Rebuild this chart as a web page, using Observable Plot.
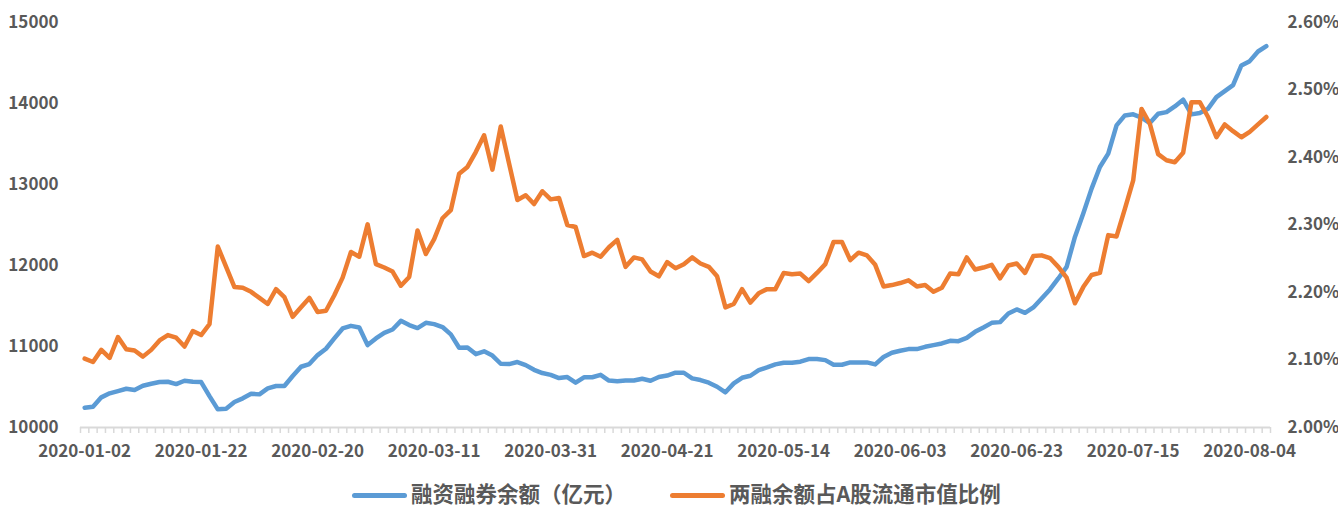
<!DOCTYPE html>
<html>
<head>
<meta charset="utf-8">
<script src="https://cdn.jsdelivr.net/npm/d3@7"></script>
<script src="https://cdn.jsdelivr.net/npm/@observablehq/plot@0.6"></script>
<style>
  html, body { margin: 0; padding: 0; background: #fff; }
  #wrap { width: 1338px; height: 509px; position: relative; overflow: hidden; }
  #chart { height: 470px; }
  #chart svg { display: block; }
  #legend { position: relative; width: 1338px; height: 39px; font-family: "Noto Sans CJK SC", "Noto Sans", sans-serif; font-weight: bold; font-size: 21.5px; color: #595959; }
  .item { position: absolute; top: 11px; height: 24px; display: flex; align-items: center; white-space: nowrap; }
  .sw { display: block; width: 55px; height: 5px; border-radius: 3px; margin-right: 4px; position: relative; top: 2px; }
  .tx { display: block; height: 24px; line-height: 24px; }
</style>
</head>
<body>
<div id="wrap">
  <div id="chart"></div>
  <div id="legend"></div>
</div>
<script>
// Trading dates (category axis)
const dates = [
"2020-01-02","2020-01-03","2020-01-06","2020-01-07","2020-01-08","2020-01-09","2020-01-10","2020-01-13","2020-01-14","2020-01-15",
"2020-01-16","2020-01-17","2020-01-20","2020-01-21","2020-01-22","2020-01-23","2020-02-03","2020-02-04","2020-02-05","2020-02-06",
"2020-02-10","2020-02-11","2020-02-12","2020-02-13","2020-02-14","2020-02-17","2020-02-18","2020-02-19","2020-02-20","2020-02-21",
"2020-02-24","2020-02-25","2020-02-26","2020-02-27","2020-02-28","2020-03-02","2020-03-03","2020-03-04","2020-03-05","2020-03-06",
"2020-03-09","2020-03-10","2020-03-11","2020-03-12","2020-03-13","2020-03-16","2020-03-17","2020-03-18","2020-03-19","2020-03-20",
"2020-03-23","2020-03-24","2020-03-25","2020-03-26","2020-03-27","2020-03-30","2020-03-31","2020-04-01","2020-04-02","2020-04-03",
"2020-04-07","2020-04-08","2020-04-09","2020-04-10","2020-04-13","2020-04-14","2020-04-15","2020-04-16","2020-04-17","2020-04-20",
"2020-04-21","2020-04-22","2020-04-23","2020-04-24","2020-04-27","2020-04-28","2020-04-29","2020-04-30","2020-05-06","2020-05-07",
"2020-05-08","2020-05-11","2020-05-12","2020-05-13","2020-05-14","2020-05-15","2020-05-18","2020-05-19","2020-05-20","2020-05-21",
"2020-05-22","2020-05-25","2020-05-26","2020-05-27","2020-05-28","2020-05-29","2020-06-01","2020-06-02","2020-06-03","2020-06-04",
"2020-06-05","2020-06-08","2020-06-09","2020-06-10","2020-06-11","2020-06-12","2020-06-15","2020-06-16","2020-06-17","2020-06-18",
"2020-06-19","2020-06-22","2020-06-23","2020-06-24","2020-06-29","2020-06-30","2020-07-01","2020-07-02","2020-07-03","2020-07-06",
"2020-07-07","2020-07-08","2020-07-09","2020-07-10","2020-07-13","2020-07-14","2020-07-15","2020-07-16","2020-07-17","2020-07-20",
"2020-07-21","2020-07-22","2020-07-23","2020-07-24","2020-07-27","2020-07-28","2020-07-29","2020-07-30","2020-07-31","2020-08-03",
"2020-08-04","2020-08-05","2020-08-06"
];

// 融资融券余额（亿元） — left axis
const marginBalance = [
10244,10257,10372,10422,10450,10478,10462,10515,10540,10561,
10565,10536,10577,10565,10561,10388,10224,10232,10315,10360,
10417,10409,10483,10512,10512,10635,10750,10783,10894,10972,
11100,11223,11255,11235,11017,11100,11169,11210,11317,11264,
11227,11292,11276,11240,11150,10985,10988,10906,10940,10888,
10787,10783,10808,10770,10712,10672,10650,10610,10623,10553,
10620,10620,10650,10580,10571,10580,10580,10602,10577,10623,
10641,10676,10676,10606,10586,10553,10503,10434,10545,10614,
10639,10709,10742,10779,10799,10799,10812,10845,10845,10832,
10775,10775,10804,10804,10804,10779,10870,10923,10947,10968,
10968,10996,11017,11038,11070,11066,11107,11181,11235,11292,
11301,11408,11458,11416,11482,11593,11704,11840,11983,12353,
12641,12949,13216,13381,13730,13853,13866,13825,13758,13874,
13894,13964,14047,13866,13882,13936,14079,14153,14227,14470,
14523,14642,14708
];

// 两融余额占A股流通市值比例 (%) — right axis
const ratioPct = [
2.102,2.097,2.115,2.103,2.134,2.116,2.114,2.105,2.115,2.129,
2.137,2.133,2.120,2.143,2.137,2.153,2.268,2.238,2.208,2.207,
2.201,2.192,2.183,2.205,2.193,2.164,2.178,2.192,2.171,2.173,
2.196,2.222,2.260,2.253,2.301,2.242,2.237,2.231,2.210,2.223,
2.292,2.257,2.279,2.310,2.322,2.376,2.386,2.408,2.433,2.382,
2.446,2.391,2.337,2.344,2.331,2.350,2.338,2.340,2.300,2.297,
2.254,2.259,2.253,2.267,2.278,2.238,2.252,2.249,2.231,2.224,
2.245,2.236,2.242,2.252,2.243,2.238,2.224,2.178,2.183,2.205,
2.185,2.199,2.205,2.205,2.229,2.227,2.228,2.217,2.229,2.242,
2.275,2.275,2.248,2.259,2.255,2.241,2.209,2.211,2.214,2.218,
2.209,2.211,2.201,2.207,2.228,2.227,2.252,2.234,2.237,2.241,
2.221,2.240,2.243,2.229,2.254,2.255,2.251,2.238,2.222,2.184,
2.208,2.226,2.229,2.285,2.283,2.324,2.366,2.472,2.450,2.405,
2.396,2.393,2.407,2.482,2.482,2.460,2.430,2.449,2.439,2.430,
2.438,2.449,2.460
];

const xTickLabels = ["2020-01-02","2020-01-22","2020-02-20","2020-03-11","2020-03-31","2020-04-21","2020-05-14","2020-06-03","2020-06-23","2020-07-15","2020-08-04"];
const leftTicks = [10000, 11000, 12000, 13000, 14000, 15000];
const rightTicks = [2.00, 2.10, 2.20, 2.30, 2.40, 2.50, 2.60];
const seriesNames = ["融资融券余额（亿元）", "两融余额占A股流通市值比例"];
const colors = ["#5B9BD5", "#ED7D31"];

// right-axis mapping onto left scale
const L0 = 10000, L1 = 15000, R0 = 2.0, R1 = 2.6;
const toLeft = p => L0 + (p - R0) / (R1 - R0) * (L1 - L0);
const fromLeft = v => R0 + (v - L0) / (L1 - L0) * (R1 - R0);

const rows = dates.map((d, i) => ({date: d, margin: marginBalance[i], ratio: ratioPct[i]}));

const W = 1338, H = 470, mL = 80, mR = 68, mT = 22, mB = 43;
const step = (W - mL - mR) / dates.length;
const textColor = "#595959";
const font = '"Noto Sans CJK SC", "Noto Sans", sans-serif';

const chart = Plot.plot({
  width: W,
  height: H,
  marginLeft: mL,
  marginRight: mR,
  marginTop: mT,
  marginBottom: mB,
  style: {fontFamily: font, fontSize: "17px", fontWeight: "bold", color: textColor, background: "#fff", overflow: "visible"},
  x: {type: "point", domain: dates, padding: 0.5, axis: null, label: null},
  y: {domain: [L0, L1], axis: null, label: null},
  marks: [
    Plot.ruleY([L0], {stroke: "#d9d9d9", strokeWidth: 2}),
    Plot.axisX({ticks: dates, tickSize: 6, tickFormat: () => "", label: null, stroke: "#d9d9d9", strokeWidth: 1.5, dx: -step / 2}),
    Plot.axisX({ticks: [dates[dates.length - 1]], tickSize: 6, tickFormat: () => "", label: null, stroke: "#d9d9d9", strokeWidth: 1.5, dx: step / 2}),
    Plot.axisX({ticks: xTickLabels, tickSize: 0, tickPadding: 17, label: null, fill: textColor}),
    Plot.axisY({ticks: leftTicks, tickSize: 0, tickPadding: 22, tickFormat: d => String(d), label: null, fill: textColor}),
    Plot.axisY({anchor: "right", ticks: rightTicks.map(toLeft), tickSize: 0, tickPadding: 17, label: null,
      tickFormat: v => fromLeft(v).toFixed(2) + "%", fill: textColor}),
    Plot.line(rows, {x: "date", y: "margin", stroke: colors[0], strokeWidth: 4.5, strokeLinejoin: "round", strokeLinecap: "round"}),
    Plot.line(rows, {x: "date", y: d => toLeft(d.ratio), stroke: colors[1], strokeWidth: 4.5, strokeLinejoin: "round", strokeLinecap: "round"})
  ]
});
document.getElementById("chart").appendChild(chart);

const legend = document.getElementById("legend");
const lefts = [352, 670];
seriesNames.forEach((name, i) => {
  const item = document.createElement("div");
  item.className = "item";
  item.style.left = lefts[i] + "px";
  const sw = document.createElement("span");
  sw.className = "sw";
  sw.style.background = colors[i];
  const t = document.createElement("span");
  t.className = "tx";
  t.textContent = name;
  item.appendChild(sw);
  item.appendChild(t);
  legend.appendChild(item);
});
</script>
</body>
</html>
